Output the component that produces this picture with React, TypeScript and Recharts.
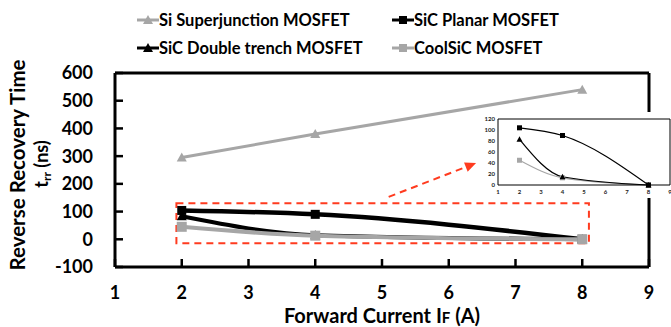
import { LineChart, Line, XAxis, YAxis, ReferenceArea, ReferenceLine } from "recharts";

const currents = [2, 4, 8];
const siSuperjunction = [295, 380, 540];
const sicPlanar = [104, 90, 0];
const sicDoubleTrench = [83, 15, 0];
const coolSic = [45, 13, 0];

const xTicks = [1, 2, 3, 4, 5, 6, 7, 8, 9];
const yTicks = [-100, 0, 100, 200, 300, 400, 500, 600];
const insetYTicks = [0, 20, 40, 60, 80, 100, 120];

// dashed zoom box + arrow pointing at the inset, in data units
const zoomBox = { x1: 1.92, x2: 8.1, y1: -14, y2: 130 };
const arrowFrom = { x: 5.1, y: 153 };
const arrowTo = { x: 6.41, y: 275 };

const data = currents.map((x, i) => ({
  x,
  si: siSuperjunction[i],
  planar: sicPlanar[i],
  trench: sicDoubleTrench[i],
  cool: coolSic[i],
}));

const GRAY = "#a6a6a6";
const RED = "#ff3b1f";
const FONT = "Lato, 'Open Sans', sans-serif";

function Marker({ cx, cy, shape, size, color }: any) {
  if (cx == null || cy == null) return null;
  const h = size / 2;
  if (shape === "square") {
    return <rect x={cx - h} y={cy - h} width={size} height={size} fill={color} />;
  }
  return <polygon points={`${cx},${cy - h} ${cx + h},${cy + h * 0.8} ${cx - h},${cy + h * 0.8}`} fill={color} />;
}

const dot = (shape: string, size: number, color: string) => (p: any) => (
  <Marker key={`${shape}-${size}-${p.index}`} cx={p.cx} cy={p.cy} shape={shape} size={size} color={color} />
);

function DashedArrow(props: any) {
  const { x1, y1, x2, y2 } = props;
  const ang = Math.atan2(y2 - y1, x2 - x1);
  const len = 11;
  const w = 5;
  const bx = x2 - len * Math.cos(ang);
  const by = y2 - len * Math.sin(ang);
  const px = -Math.sin(ang) * w;
  const py = Math.cos(ang) * w;
  return (
    <g>
      <line x1={x1} y1={y1} x2={bx} y2={by} stroke={RED} strokeWidth={2} strokeDasharray="7 5" />
      <polygon points={`${x2},${y2} ${bx + px},${by + py} ${bx - px},${by - py}`} fill={RED} />
    </g>
  );
}

function LegendIcon({ shape, color }: { shape: string; color: string }) {
  return (
    <svg width={22} height={12} style={{ display: "block" }}>
      <line x1={0} y1={6} x2={22} y2={6} stroke={color} strokeWidth={3} />
      <Marker cx={11} cy={6} shape={shape} size={shape === "square" ? 8 : 10} color={color} />
    </svg>
  );
}

const legendRows = [
  [
    { name: "Si Superjunction MOSFET", shape: "triangle", color: GRAY },
    { name: "SiC Planar MOSFET", shape: "square", color: "#000" },
  ],
  [
    { name: "SiC Double trench MOSFET", shape: "triangle", color: "#000" },
    { name: "CoolSiC MOSFET", shape: "square", color: GRAY },
  ],
];

function XTitle({ viewBox }: any) {
  const cx = viewBox.x + viewBox.width / 2;
  return (
    <text x={cx} y={323} textAnchor="middle" fontFamily={FONT} fontWeight={700} fontSize={20} fill="#000">
      Forward Current I<tspan fontSize={15}>F</tspan> (A)
    </text>
  );
}

function YTitle() {
  return (
    <g fontFamily={FONT} fontWeight={700} fill="#000" textAnchor="middle">
      <text transform="translate(24.5,165) rotate(-90)" fontSize={20.5}>
        Reverse Recovery Time
      </text>
      <text transform="translate(48,164) rotate(-90)" fontSize={18}>
        t<tspan fontSize={12} dy={3}>rr</tspan>
        <tspan dy={-3}> (ns)</tspan>
      </text>
    </g>
  );
}

export default function App() {
  const tickStyle = { fill: "#000", fontSize: 18, fontWeight: 700, fontFamily: FONT };
  const insetTick = { fill: "#222", fontSize: 6, fontWeight: 700, fontFamily: FONT };
  return (
    <div style={{ position: "relative", width: 671, height: 327, fontFamily: FONT }}>
      <style>{"body{margin:0}"}</style>
      <LineChart width={671} height={327} data={data} margin={{ top: 73, right: 22, bottom: 0, left: 0 }}>
        <XAxis
          type="number"
          dataKey="x"
          domain={[1, 9]}
          ticks={xTicks}
          interval={0}
          height={60}
          tick={tickStyle}
          tickSize={-8}
          tickMargin={27}
          tickLine={{ stroke: "#000", strokeWidth: 2.5 }}
          axisLine={{ stroke: "#000", strokeWidth: 3 }}
          label={<XTitle />}
        />
        <YAxis
          type="number"
          domain={[-100, 600]}
          ticks={yTicks}
          interval={0}
          width={115}
          tick={tickStyle}
          tickSize={-8}
          tickMargin={30}
          tickLine={{ stroke: "#000", strokeWidth: 2.5 }}
          axisLine={{ stroke: "#000", strokeWidth: 3 }}
          label={<YTitle />}
        />
        <ReferenceLine y={600} stroke="#000" strokeWidth={3} />
        <ReferenceLine x={9} stroke="#000" strokeWidth={3} />
        <ReferenceArea
          x1={zoomBox.x1}
          x2={zoomBox.x2}
          y1={zoomBox.y1}
          y2={zoomBox.y2}
          fill="none"
          fillOpacity={0}
          stroke={RED}
          strokeWidth={2}
          strokeDasharray="7 5"
        />
        <ReferenceLine segment={[arrowFrom, arrowTo]} shape={<DashedArrow />} />
        <Line
          dataKey="si"
          type="linear"
          stroke={GRAY}
          strokeWidth={3}
          dot={dot("triangle", 10, GRAY)}
          isAnimationActive={false}
        />
        <Line
          dataKey="trench"
          type="monotone"
          stroke="#000"
          strokeWidth={4}
          dot={dot("triangle", 10, "#000")}
          isAnimationActive={false}
        />
        <Line
          dataKey="planar"
          type="monotone"
          stroke="#000"
          strokeWidth={4.5}
          dot={dot("square", 9, "#000")}
          isAnimationActive={false}
        />
        <Line
          dataKey="cool"
          type="monotone"
          stroke={GRAY}
          strokeWidth={4}
          dot={dot("square", 10, GRAY)}
          isAnimationActive={false}
        />
      </LineChart>

      {/* zoomed inset */}
      <div style={{ position: "absolute", left: 478, top: 112, width: 193, height: 86, background: "#fff" }}>
        <LineChart width={193} height={86} data={data} margin={{ top: 7, right: 1, bottom: 0, left: 0 }}>
          <XAxis
            type="number"
            dataKey="x"
            domain={[1, 9]}
            ticks={xTicks}
            interval={0}
            height={13}
            tick={insetTick}
            tickSize={0}
            tickMargin={5}
            tickLine={false}
            axisLine={{ stroke: "#000" }}
          />
          <YAxis
            type="number"
            domain={[0, 120]}
            ticks={insetYTicks}
            interval={0}
            width={20}
            tick={insetTick}
            tickSize={0}
            tickMargin={3}
            tickLine={false}
            axisLine={{ stroke: "#000" }}
          />
          <ReferenceLine y={120} stroke="#000" />
          <ReferenceLine x={9} stroke="#000" />
          <Line dataKey="cool" type="monotone" stroke={GRAY} strokeWidth={1.2} dot={dot("square", 5, GRAY)} isAnimationActive={false} />
          <Line dataKey="trench" type="monotone" stroke="#000" strokeWidth={1.2} dot={dot("triangle", 6, "#000")} isAnimationActive={false} />
          <Line dataKey="planar" type="monotone" stroke="#000" strokeWidth={1.2} dot={dot("square", 5, "#000")} isAnimationActive={false} />
        </LineChart>
      </div>

      {/* legend */}
      <div
        style={{
          position: "absolute",
          left: 137,
          top: 6,
          display: "grid",
          gridTemplateColumns: "255px auto",
          fontSize: 16.5,
          fontWeight: 700,
          lineHeight: "28px",
          color: "#000",
        }}
      >
        {legendRows.flat().map((item) => (
          <div key={item.name} style={{ display: "flex", alignItems: "center", height: 28 }}>
            <LegendIcon shape={item.shape} color={item.color} />
            <span style={{ whiteSpace: "nowrap" }}>{item.name}</span>
          </div>
        ))}
      </div>
    </div>
  );
}
